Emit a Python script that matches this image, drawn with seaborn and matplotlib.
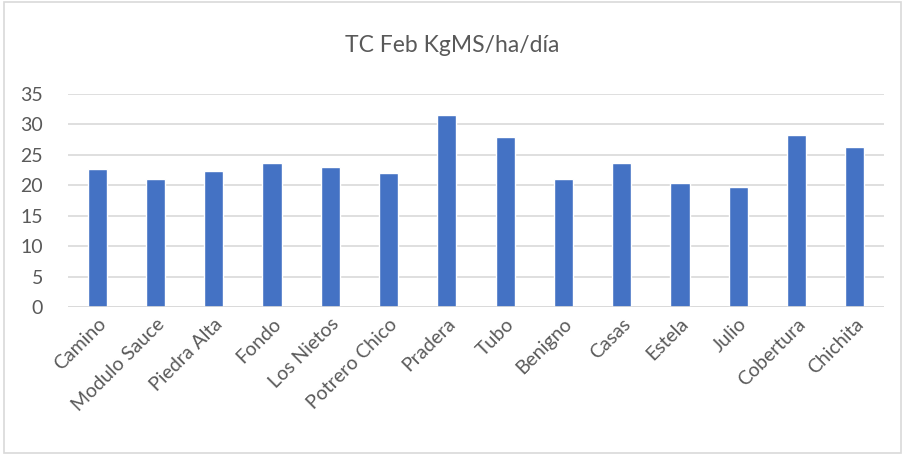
import matplotlib
matplotlib.use("Agg")
import matplotlib.pyplot as plt
import seaborn as sns
import pandas as pd
from matplotlib.patches import Rectangle

sns.set_style('white')
plt.rcParams['font.family'] = ['Lato', 'DejaVu Sans']

potreros = ['Camino', 'Modulo Sauce', 'Piedra Alta', 'Fondo', 'Los Nietos',
            'Potrero Chico', 'Pradera', 'Tubo', 'Benigno', 'Casas', 'Estela',
            'Julio', 'Cobertura', 'Chichita']
tasa = [22.7, 21.0, 22.4, 23.7, 23.0, 22.0, 31.6, 28.0, 21.0, 23.7, 20.4,
        19.7, 28.3, 26.3]
yticks = [0, 5, 10, 15, 20, 25, 30, 35]

df = pd.DataFrame({'potrero': potreros, 'tc': tasa})

fig = plt.figure(figsize=(9.05, 4.55), dpi=100)
ax = fig.add_axes([68 / 905, 1 - 307 / 455, (884 - 68) / 905, (307 - 94) / 455])

sns.barplot(data=df, x='potrero', y='tc', color='#4472C4', width=0.33,
            saturation=1, ax=ax, zorder=3)

ax.set_ylim(0, 35)
ax.set_xlim(-0.5, len(potreros) - 0.5)
ax.set_yticks(yticks)
ax.yaxis.grid(True, color='#D9D9D9', linewidth=1.2, zorder=0)
ax.set_axisbelow(True)
for s in ax.spines.values():
    s.set_visible(False)
ax.axhline(0, color='#D9D9D9', linewidth=1.2, zorder=4)

ax.tick_params(axis='both', length=0, labelsize=14, colors='#595959')
ax.tick_params(axis='y', pad=18)
ax.set_xticks(range(len(potreros)))
ax.set_xticklabels(potreros, rotation=45, ha='right', rotation_mode='anchor')
ax.tick_params(axis='x', pad=6)
ax.set_xlabel('')
ax.set_ylabel('')

fig.text(0.5, 1 - 46 / 455, 'TC Feb KgMS/ha/día', ha='center', va='center',
         fontsize=16.5, color='#595959')

fig.patches.append(Rectangle((0.004, 0.004), 0.992, 0.992, transform=fig.transFigure,
                             fill=False, edgecolor='#D9D9D9', linewidth=1.2))

fig.savefig('out.png', dpi=100)
